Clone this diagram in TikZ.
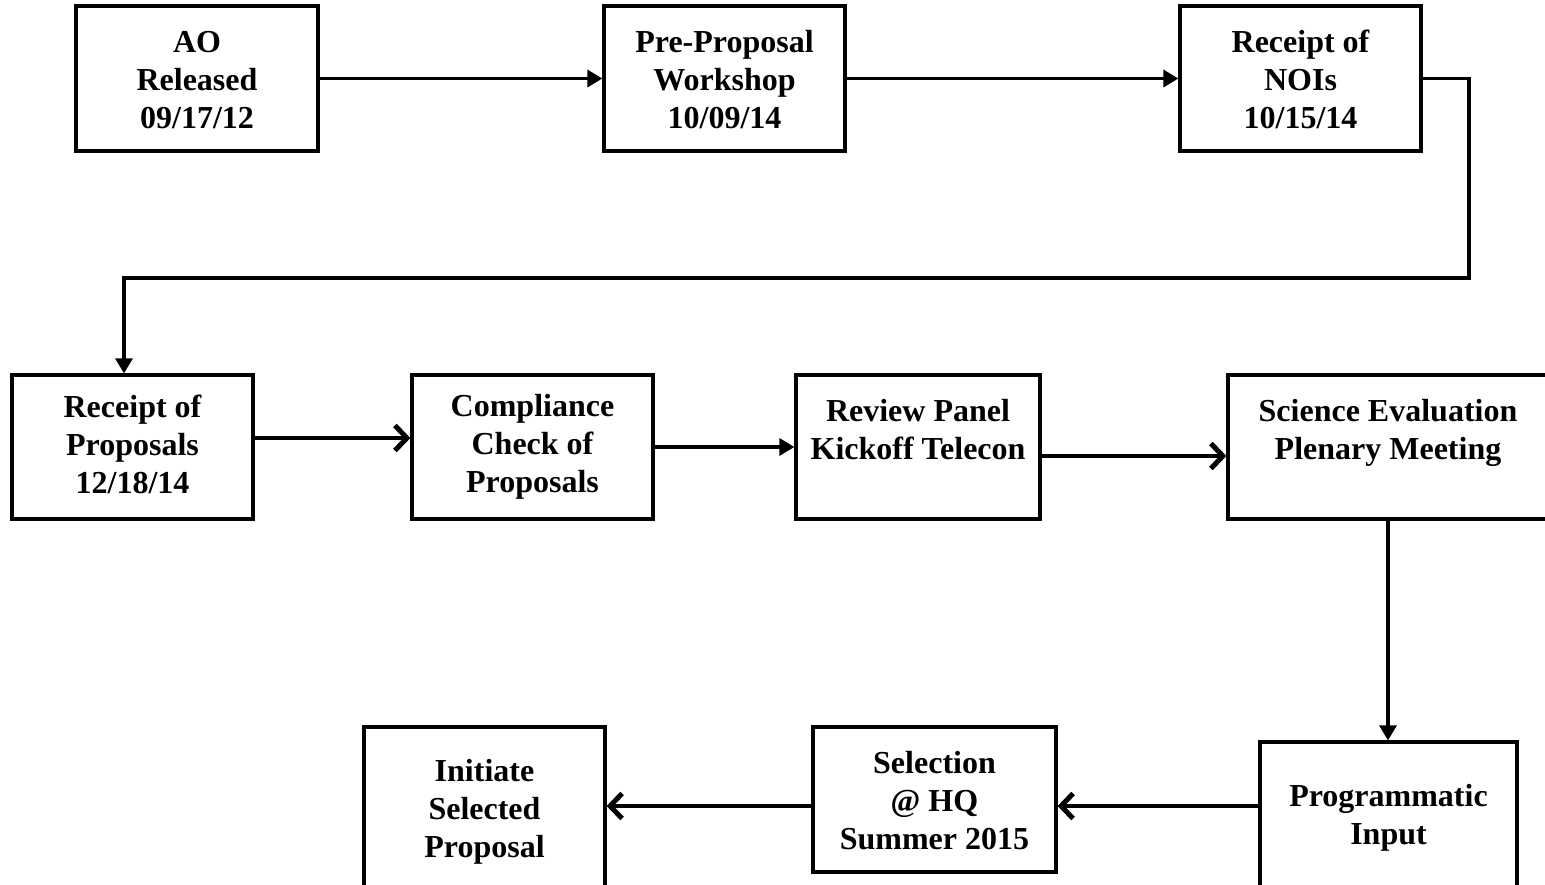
\documentclass[tikz,border=0pt]{standalone}
\usepackage{fontspec}
\setmainfont{Liberation Serif}
\usetikzlibrary{arrows.meta}
\tikzset{
  box/.style={draw=black, line width=3.2pt, rectangle, inner sep=0pt, minimum height=145pt},
  txt/.style={align=center, inner sep=0pt, font=\bfseries\fontsize{32}{38}\selectfont},
  conn/.style={line width=3.2pt, line join=miter},
  tri/.style={conn, -{Triangle[length=15pt,width=17pt]}},
  chev/.style={conn, -{Straight Barb[length=12pt,width=25pt,line width=5pt]}}
}
\begin{document}
\begin{tikzpicture}[x=1pt,y=-1pt]
\useasboundingbox (0,0) rectangle (1545,884);
\clip (0,0) rectangle (1545,884);
% top row
\node[box, minimum width=242pt] (ao) at (197,78.5) {};
\node[box, minimum width=241pt] (pre) at (724.5,78.5) {};
\node[box, minimum width=241pt] (noi) at (1300.5,78.5) {};
% middle row
\node[box, minimum width=241pt, minimum height=144pt] (prop) at (132.5,447) {};
\node[box, minimum width=241pt, minimum height=144pt] (comp) at (532.5,447) {};
\node[box, minimum width=244pt, minimum height=144pt] (rev) at (918,447) {};
\node[box, minimum width=320pt, minimum height=144pt] (sci) at (1388,447) {};
% bottom row
\node[box, minimum width=257pt, minimum height=146pt] (prog) at (1388.5,815) {};
\node[box, minimum width=243pt, minimum height=145pt] (sel) at (934.5,799.5) {};
\node[box, minimum width=241pt, minimum height=163pt] (init) at (484.5,808.5) {};
% texts
\node[txt] (aoT) at ([yshift=-2pt]ao.center) {AO\\Released\\09/17/12};
\node[txt] (preT) at ([yshift=-1pt]pre.center) {Pre-Proposal\\Workshop\\10/09/14};
\node[txt] (noiT) at ([yshift=-1pt]noi.center) {Receipt of\\NOIs\\10/15/14};
\node[txt] (propT) at ([yshift=3pt]prop.center) {Receipt of\\Proposals\\12/18/14};
\node[txt] (compT) at (comp.center) {Compliance\\Check of\\Proposals};
\node[txt] (revT) at ([yshift=-26pt]rev.north) [anchor=north] {Review Panel\\Kickoff Telecon};
\node[txt] (sciT) at ([yshift=-26pt]sci.north) [anchor=north] {Science Evaluation\\Plenary Meeting};
\node[txt] (progT) at ([yshift=-3pt]prog.center) {Programmatic\\Input};
\node[txt] (selT) at ([yshift=-1pt]sel.center) {Selection\\@ HQ\\Summer 2015};
\node[txt] (initT) at ([yshift=-3pt]init.center) {Initiate\\Selected\\Proposal};
% connectors
\coordinate (c1) at (1469,78.5);
\coordinate (c2) at (1469,278);
\coordinate (c3) at (124,278);
\draw[tri] (ao.east) -- (pre.west);
\draw[tri] (pre.east) -- (noi.west);
\draw[tri] (noi.east) -- (c1) -- (c2) -- (c3) -- (c3 |- prop.north);
\draw[chev] (prop.east |- 0,438) -- (comp.west |- 0,438);
\draw[tri] (comp.east) -- (rev.west);
\draw[chev] (rev.east |- 0,456) -- (sci.west |- 0,456);
\draw[tri] (sci.south) -- (sci.south |- prog.north);
\draw[chev] (prog.west |- 0,806) -- (sel.east |- 0,806);
\draw[chev] (sel.west |- 0,806) -- (init.east |- 0,806);
\end{tikzpicture}
\end{document}
